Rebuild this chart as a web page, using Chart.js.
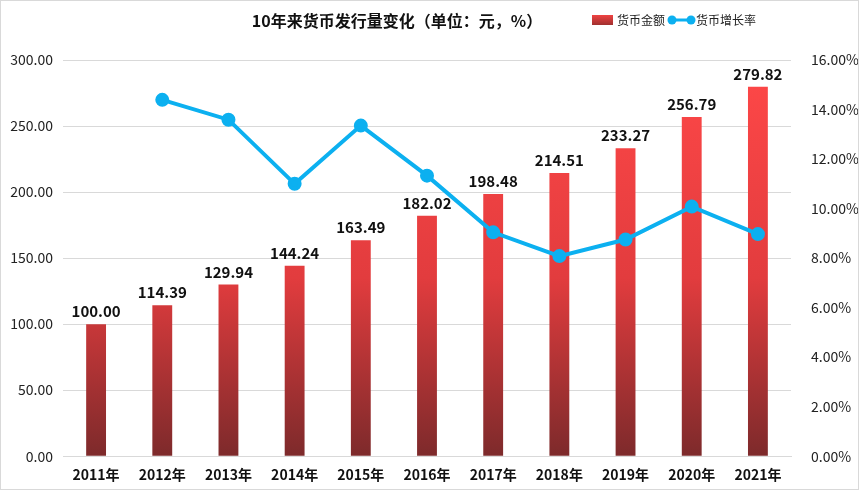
<!DOCTYPE html>
<html>
<head>
<meta charset="utf-8">
<script src="https://cdn.jsdelivr.net/npm/chart.js@4/dist/chart.umd.min.js"></script>
<style>
  html, body { margin: 0; padding: 0; background: #fff; }
  #wrap { width: 857px; height: 488px; border: 1px solid #d9d9d9; }
</style>
</head>
<body>
<div id="wrap"><canvas id="myChart" width="857" height="488"></canvas></div>
<script>
let years = ["2011年", "2012年", "2013年", "2014年", "2015年", "2016年", "2017年", "2018年", "2019年", "2020年", "2021年"];
let amounts = [100.00, 114.39, 129.94, 144.24, 163.49, 182.02, 198.48, 214.51, 233.27, 256.79, 279.82];
let growthRates = [null, 14.39, 13.59, 11.00, 13.35, 11.33, 9.04, 8.08, 8.75, 10.08, 8.97];

const FONT = "'Noto Sans CJK SC', 'Noto Sans', sans-serif";
const BLUE = "#0cb0f0";

// подписи над столбцами, заголовок и легенда
const extras = {
    id: 'extras',
    afterDatasetsDraw(chart) {
        let ctx = chart.ctx;
        let meta = chart.getDatasetMeta(1);
        ctx.save();
        ctx.fillStyle = "#111";
        ctx.font = "bold 15px " + FONT;
        ctx.textAlign = "center";
        ctx.textBaseline = "bottom";
        meta.data.forEach((bar, i) => {
            ctx.fillText(amounts[i].toFixed(2), bar.x, bar.y - 5);
        });
        ctx.restore();
    },
    afterDraw(chart) {
        let ctx = chart.ctx;
        ctx.save();
        ctx.fillStyle = "#111";
        ctx.font = "bold 16px " + FONT;
        ctx.textAlign = "center";
        ctx.textBaseline = "middle";
        ctx.fillText("10年来货币发行量变化（单位：元，%）", 396, 20);

        // legend
        let g = ctx.createLinearGradient(0, 12, 0, 24);
        g.addColorStop(0, "#ff4646");
        g.addColorStop(1, "#a0302f");
        ctx.fillStyle = g;
        ctx.fillRect(591, 14, 21, 10);
        ctx.font = "12px " + FONT;
        ctx.textAlign = "left";
        ctx.fillStyle = "#222";
        ctx.fillText("货币金额", 616, 19);
        ctx.strokeStyle = BLUE;
        ctx.lineWidth = 3;
        ctx.beginPath();
        ctx.moveTo(671, 19);
        ctx.lineTo(690, 19);
        ctx.stroke();
        ctx.fillStyle = BLUE;
        [671, 690].forEach(x => {
            ctx.beginPath();
            ctx.arc(x, 19, 4.5, 0, Math.PI * 2);
            ctx.fill();
        });
        ctx.fillStyle = "#222";
        ctx.fillText("货币增长率", 695, 19);
        ctx.restore();
    }
};

new Chart(document.getElementById("myChart"), {
    type: 'bar',
    data: {
        labels: years,
        datasets: [{
            type: 'line',
            label: "货币增长率",
            data: growthRates,
            yAxisID: 'y1',
            borderColor: BLUE,
            backgroundColor: BLUE,
            borderWidth: 4,
            pointRadius: 5,
            pointHoverRadius: 5,
            fill: false,
            order: 0
        }, {
            type: 'bar',
            label: "货币金额",
            data: amounts,
            yAxisID: 'y',
            barPercentage: 0.3,
            categoryPercentage: 1,
            order: 1,
            backgroundColor(c) {
                let area = c.chart.chartArea;
                if (!area) return "#e03c3c";
                let g = c.chart.ctx.createLinearGradient(0, area.top, 0, area.bottom);
                g.addColorStop(0, "#ff4848");
                g.addColorStop(0.55, "#e23c3e");
                g.addColorStop(1, "#7d2a2b");
                return g;
            }
        }]
    },
    options: {
        responsive: false,
        animation: false,
        layout: { padding: { top: 59, left: 0, right: 0, bottom: 4 } },
        plugins: {
            legend: { display: false },
            title: { display: false },
            tooltip: { enabled: false }
        },
        scales: {
            x: {
                grid: { display: false },
                border: { color: "#d9d9d9" },
                ticks: {
                    color: "#111",
                    font: { family: FONT, size: 14, weight: 'bold' },
                    padding: 2
                }
            },
            y: {
                position: 'left',
                min: 0,
                max: 300,
                grid: { color: "#d9d9d9", drawTicks: false },
                border: { display: false },
                afterFit(s) { s.width = 62; },
                ticks: {
                    stepSize: 50,
                    color: "#222",
                    padding: 10,
                    font: { family: FONT, size: 14 },
                    callback: v => v.toFixed(2)
                }
            },
            y1: {
                position: 'right',
                min: 0,
                max: 16,
                grid: { display: false },
                border: { display: false },
                afterFit(s) { s.width = 67; },
                ticks: {
                    stepSize: 2,
                    color: "#222",
                    padding: 12,
                    font: { family: FONT, size: 14 },
                    callback: v => v.toFixed(2) + "%"
                }
            }
        }
    },
    plugins: [extras]
});
</script>
</body>
</html>
